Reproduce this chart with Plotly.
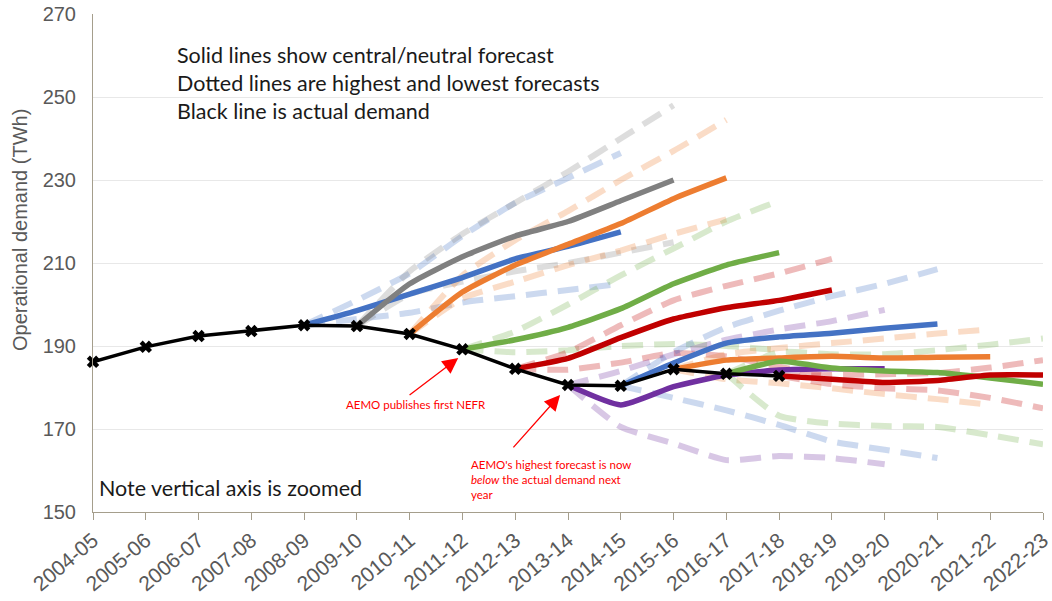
import plotly.graph_objects as go

years = ["2004-05", "2005-06", "2006-07", "2007-08", "2008-09", "2009-10", "2010-11",
         "2011-12", "2012-13", "2013-14", "2014-15", "2015-16", "2016-17", "2017-18",
         "2018-19", "2019-20", "2020-21", "2021-22", "2022-23"]

y_ticks = [150, 170, 190, 210, 230, 250, 270]

actual = [186.2, 189.8, 192.4, 193.6, 195.0, 194.8, 192.9, 189.2, 184.5, 180.6, 180.4, 184.4, 183.3, 182.8]

# forecast start years (first category of each forecast)
start_years = ["2008-09", "2009-10", "2010-11", "2011-12", "2012-13",
               "2013-14", "2014-15", "2015-16", "2016-17", "2017-18"]

central = [
    [195.0, 198.5, 202.5, 206.5, 211.0, 214.0, 217.5],
    [194.8, 205.0, 211.5, 216.5, 220.0, 225.0, 230.0],
    [192.9, 203.0, 209.5, 214.5, 219.5, 225.5, 230.5],
    [189.2, 191.5, 194.5, 199.0, 205.0, 209.5, 212.5],
    [184.5, 187.0, 192.0, 196.5, 199.2, 201.0, 203.5],
    [180.6, 175.8, 180.2, 183.0, 184.2, 184.5, 184.5],
    [180.4, 185.9, 190.7, 192.2, 193.1, 194.3, 195.3],
    [184.4, 186.6, 187.1, 187.5, 187.1, 187.3, 187.4],
    [183.3, 186.3, 184.7, 184.0, 183.6, 182.3, 180.8],
    [182.8, 182.0, 181.2, 181.7, 183.0, 183.0],
]
high = [
    [195.0, 201.0, 207.5, 216.5, 224.5, 230.5, 236.5],
    [194.8, 208.0, 217.0, 224.5, 232.0, 240.0, 248.0],
    [192.9, 207.0, 215.5, 222.5, 230.0, 237.0, 244.5],
    [189.2, 193.5, 200.0, 207.0, 213.5, 220.0, 225.0],
    [184.5, 188.5, 195.0, 201.0, 204.5, 207.5, 211.0],
    [180.6, 184.0, 188.0, 191.5, 194.0, 196.0, 198.7],
    [180.4, 188.5, 194.5, 198.5, 202.0, 205.0, 208.5],
    [184.4, 188.0, 189.5, 190.7, 191.8, 193.0, 194.0],
    [183.3, 188.5, 188.0, 188.0, 189.0, 190.3, 191.8],
    [182.8, 183.0, 183.2, 183.5, 184.8, 186.6],
]
low = [
    [195.0, 196.5, 198.0, 200.5, 202.0, 203.5, 205.0],
    [194.8, 202.5, 205.5, 208.0, 210.0, 212.5, 215.0],
    [192.9, 201.5, 205.5, 209.5, 213.0, 217.0, 220.5],
    [189.2, 188.5, 189.0, 190.0, 190.5, 190.0, 189.0],
    [184.5, 184.3, 186.0, 188.3, 187.5, 185.0, 182.5],
    [180.6, 170.5, 166.5, 162.5, 163.5, 163.0, 161.5],
    [180.4, 177.5, 174.5, 171.0, 167.0, 165.0, 163.0],
    [184.4, 182.0, 181.0, 179.8, 178.4, 177.2, 175.8],
    [183.3, 173.2, 171.3, 170.7, 170.5, 168.5, 166.3],
    [182.8, 180.8, 179.8, 179.3, 177.5, 175.0],
]

colors = ["#4472C4", "#808080", "#ED7D31", "#70AD47", "#C00000",
          "#7030A0", "#4472C4", "#ED7D31", "#70AD47", "#C00000"]


def rgba(hexc, a):
    h = hexc.lstrip("#")
    r, g, b = int(h[0:2], 16), int(h[2:4], 16), int(h[4:6], 16)
    return f"rgba({r},{g},{b},{a})"


fig = go.Figure()

# dashed high / low forecasts
for k, s in enumerate(start_years):
    i0 = years.index(s)
    for series in (high, low):
        vals = series[k]
        fig.add_trace(go.Scatter(
            x=years[i0:i0 + len(vals)], y=vals, mode="lines",
            line=dict(color=rgba(colors[k], 0.27), width=6, dash="21px,11px", shape="spline", smoothing=0.5),
            showlegend=False, hoverinfo="skip"))

# solid central forecasts
for k, s in enumerate(start_years):
    i0 = years.index(s)
    vals = central[k]
    fig.add_trace(go.Scatter(
        x=years[i0:i0 + len(vals)], y=vals, mode="lines",
        line=dict(color=colors[k], width=5.5, shape="spline", smoothing=0.5),
        showlegend=False))

# actual demand
fig.add_trace(go.Scatter(
    x=years[:len(actual)], y=actual, mode="lines+markers",
    line=dict(color="black", width=3.5),
    marker=dict(symbol="x", size=11, color="black"),
    cliponaxis=False, showlegend=False))

axis_col = "#A59E8C"
text_font = "Lato, 'Open Sans', sans-serif"


def px_x(px):
    return (px - 93) / 950


def px_y(py):
    return (512 - py) / 498


fig.update_layout(
    width=1052, height=601,
    margin=dict(l=93, r=9, t=14, b=89),
    paper_bgcolor="white", plot_bgcolor="white",
    xaxis=dict(type="category", categoryorder="array", categoryarray=years, automargin=False,
               range=[0, 18], showgrid=False, showline=True, linecolor=axis_col, linewidth=1,
               ticks="outside", ticklen=7, tickcolor=axis_col, tickangle=-40,
               tickfont=dict(family="Arial", size=21, color="#595959")),
    yaxis=dict(range=[150, 270], tickvals=y_ticks, automargin=False,
               showgrid=True, gridcolor="#E8E8E8", gridwidth=1,
               showline=True, linecolor=axis_col, linewidth=1, zeroline=False, ticks="",
               ticklabelstandoff=12,
               tickfont=dict(family="Arial", size=20, color="#595959")),
)

note_font = dict(family=text_font, size=21.5, color="#1a1a1a")
red_font = dict(family=text_font, size=11.5, color="#FF0000")

annotations = [
    dict(xref="paper", yref="paper", x=px_x(20), y=px_y(230), text="Operational demand (TWh)",
         textangle=-90, showarrow=False, xanchor="center", yanchor="middle",
         font=dict(family="Arial", size=20, color="#595959")),
    dict(xref="paper", yref="paper", x=px_x(175), y=px_y(55), xanchor="left", yanchor="middle",
         text="Solid lines show central/neutral forecast", showarrow=False, font=note_font),
    dict(xref="paper", yref="paper", x=px_x(175), y=px_y(83), xanchor="left", yanchor="middle",
         text="Dotted lines are highest and lowest forecasts", showarrow=False, font=note_font),
    dict(xref="paper", yref="paper", x=px_x(175), y=px_y(111), xanchor="left", yanchor="middle",
         text="Black line is actual demand", showarrow=False, font=note_font),
    dict(xref="paper", yref="paper", x=px_x(97), y=px_y(488), xanchor="left", yanchor="middle",
         text="Note vertical axis is zoomed", showarrow=False, font=note_font),
    dict(xref="paper", yref="paper", x=px_x(416), y=px_y(404), xanchor="center", yanchor="middle",
         text="AEMO publishes first NEFR", showarrow=False, font=red_font),
    dict(xref="paper", yref="paper", x=px_x(469), y=px_y(479), xanchor="left", yanchor="middle",
         align="left",
         text="AEMO's highest forecast is now<br><i>below</i> the actual demand next<br>year",
         showarrow=False, font=red_font),
    dict(x=6.92, y=187.1, ax=5.97, ay=177.9, xref="x", yref="y", axref="x", ayref="y",
         text="", showarrow=True, arrowhead=2, arrowsize=2.4, arrowwidth=1.3, arrowcolor="#FF0000",
         standoff=0),
    dict(x=8.85, y=178.2, ax=7.94, ay=165.2, xref="x", yref="y", axref="x", ayref="y",
         text="", showarrow=True, arrowhead=2, arrowsize=2.4, arrowwidth=1.3, arrowcolor="#FF0000",
         standoff=0),
]
fig.update_layout(annotations=annotations)

fig.write_html("out.html", config={"displayModeBar": False},
               post_script="document.body.style.margin='0px';")
